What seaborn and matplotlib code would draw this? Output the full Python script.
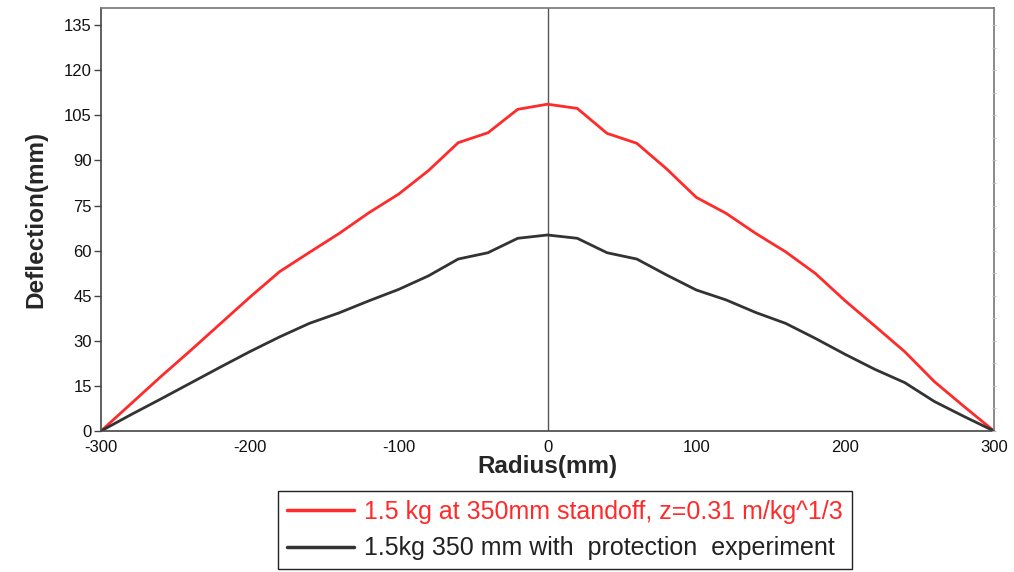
import numpy as np
import pandas as pd
import seaborn as sns
import matplotlib
matplotlib.use("Agg")
from matplotlib import pyplot as plt
from matplotlib.ticker import MultipleLocator

# radius positions (mm)
radius = [-300, -280, -260, -240, -220, -200, -180, -160, -140, -120, -100, -80, -60, -40, -20,
          0, 20, 40, 60, 80, 100, 120, 140, 160, 180, 200, 220, 240, 260, 280, 300]

# deflection (mm)
defl_sim = [0, 9.0, 18.0, 26.7, 35.6, 44.5, 53.0, 59.4, 65.7, 72.6, 78.8, 86.6, 95.9, 99.2, 107.0,
            108.7, 107.3, 99.0, 95.7, 87.2, 77.7, 72.4, 65.7, 59.6, 52.4, 43.3, 34.9, 26.4, 16.4, 8.1, 0]
defl_exp = [0, 5.4, 10.6, 15.9, 21.2, 26.4, 31.3, 35.8, 39.3, 43.3, 47.1, 51.6, 57.2, 59.3, 64.1,
            65.2, 64.1, 59.3, 57.2, 51.9, 46.9, 43.6, 39.4, 35.8, 30.8, 25.5, 20.5, 16.1, 9.8, 4.8, 0]

labels = ["1.5 kg at 350mm standoff, z=0.31 m/kg^1/3",
          "1.5kg 350 mm with  protection  experiment"]
colors = ["#ff2a2a", "#333333"]

df = pd.concat([
    pd.DataFrame({"Radius": radius, "Deflection": defl_sim, "series": labels[0]}),
    pd.DataFrame({"Radius": radius, "Deflection": defl_exp, "series": labels[1]}),
])

sns.set_style("white")
plt.rcParams["font.family"] = ["Liberation Sans", "DejaVu Sans"]
plt.rcParams["axes.unicode_minus"] = False

fig = plt.figure(figsize=(10.14, 5.72), dpi=100)
ax = fig.add_axes([101 / 1014, 1 - 431 / 572, (994 - 101) / 1014, (431 - 8) / 572])

sns.lineplot(data=df, x="Radius", y="Deflection", hue="series", palette=colors,
             linewidth=2.0, ax=ax, legend=False, sort=False)

ax.axvline(0, color="#555555", linewidth=1.0, zorder=0)

ax.set_xlim(-300, 300)
ax.set_ylim(0, 140.7)
ax.xaxis.set_major_locator(MultipleLocator(100))
ax.xaxis.set_minor_locator(MultipleLocator(50))
ax.set_yticks(np.arange(0, 136, 15))

ax.tick_params(axis="both", which="major", direction="out", length=5, width=1,
               color="#444444", labelsize=12, pad=1.5, labelcolor="#111111")
ax.tick_params(axis="x", which="minor", direction="out", length=2, width=1, color="#aaaaaa")

for side in ["left", "bottom"]:
    ax.spines[side].set_color("#444444")
    ax.spines[side].set_linewidth(1.2)
for side in ["right", "top"]:
    ax.spines[side].set_color("#777777")
    ax.spines[side].set_linewidth(1.2)

# small ticks on the right spine
ax_r = ax.twinx()
ax_r.set_ylim(ax.get_ylim())
ax_r.set_yticks(np.arange(0, 136, 7.5))
ax_r.tick_params(axis="y", direction="inout", length=3, color="#bbbbbb", labelright=False)
for sp in ax_r.spines.values():
    sp.set_visible(False)

ax.set_xlabel("Radius(mm)", fontsize=17.5, fontweight="bold", labelpad=0)
ax.set_ylabel("Deflection(mm)", fontsize=17.5, fontweight="bold", labelpad=12)

handles = [plt.Line2D([], [], color=c, linewidth=2.5) for c in colors]
leg = fig.legend(handles, labels, loc="center", bbox_to_anchor=(565 / 1014, 1 - 530 / 572),
                 fontsize=18, frameon=True, fancybox=False, edgecolor="#222222",
                 framealpha=1, handlelength=2.7, borderpad=0.35, labelspacing=0.5,
                 handletextpad=0.4, borderaxespad=0)
leg.get_frame().set_linewidth(1.0)
leg.get_texts()[0].set_color("#ff2a2a")
leg.get_texts()[1].set_color("#222222")

fig.savefig("out.png", dpi=100)
